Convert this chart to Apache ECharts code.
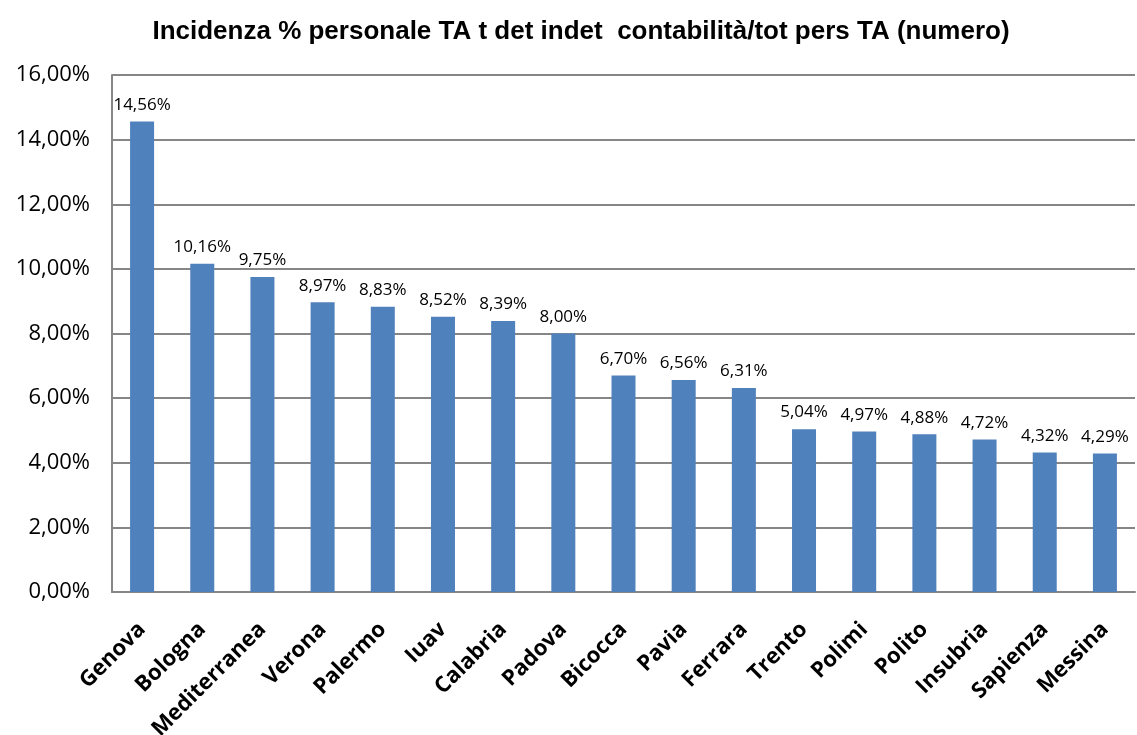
<!DOCTYPE html>
<html>
<head>
<meta charset="utf-8">
<script src="https://cdn.jsdelivr.net/npm/echarts@6/dist/echarts.min.js"></script>
<style>
  html, body { margin: 0; padding: 0; background: #fff; }
  #chart { width: 1137px; height: 735px; }
</style>
</head>
<body>
<div id="chart"></div>
<script>
const categories = ['Genova', 'Bologna', 'Mediterranea', 'Verona', 'Palermo', 'Iuav', 'Calabria', 'Padova', 'Bicocca', 'Pavia', 'Ferrara', 'Trento', 'Polimi', 'Polito', 'Insubria', 'Sapienza', 'Messina']
const values = [14.56, 10.16, 9.75, 8.97, 8.83, 8.52, 8.39, 8.00, 6.70, 6.56, 6.31, 5.04, 4.97, 4.88, 4.72, 4.32, 4.29]
const titleText = 'Incidenza % personale TA t det indet  contabilità/tot pers TA (numero)'

const pct = (v) => v.toFixed(2).replace('.', ',') + '%'

const chart = echarts.init(document.getElementById('chart'))
chart.setOption({
  backgroundColor: '#fff',
  animation: false,
  title: {
    text: titleText,
    left: 576,
    textAlign: 'center',
    top: 14,
    textStyle: { fontFamily: 'Liberation Sans, sans-serif', fontWeight: 'bold', fontSize: 26, color: '#000' }
  },
  grid: { left: 112, right: 2, top: 75, bottom: 143, outerBoundsMode: 'none', containLabel: false },
  xAxis: {
    type: 'category',
    data: categories,
    axisLine: { lineStyle: { color: '#868686', width: 2 } },
    axisTick: { show: false },
    axisLabel: {
      rotate: 45,
      interval: 0,
      margin: 34,
      color: '#000',
      fontWeight: 'bold',
      fontSize: 22,
      fontFamily: 'Open Sans, sans-serif'
    }
  },
  yAxis: {
    type: 'value',
    min: 0,
    max: 16,
    interval: 2,
    axisLine: { show: true, lineStyle: { color: '#868686', width: 2 } },
    axisTick: { show: false },
    splitLine: { lineStyle: { color: '#868686', width: 2 } },
    axisLabel: {
      formatter: pct,
      margin: 22,
      color: '#000',
      fontSize: 22,
      fontFamily: 'Open Sans, sans-serif'
    }
  },
  series: [{
    type: 'bar',
    data: values,
    barWidth: 24,
    itemStyle: { color: '#4f81bd' },
    label: {
      show: true,
      position: 'top',
      distance: 8,
      formatter: (p) => pct(p.value),
      color: '#000',
      fontSize: 17,
      fontFamily: 'Open Sans, sans-serif'
    }
  }]
})
</script>
</body>
</html>
